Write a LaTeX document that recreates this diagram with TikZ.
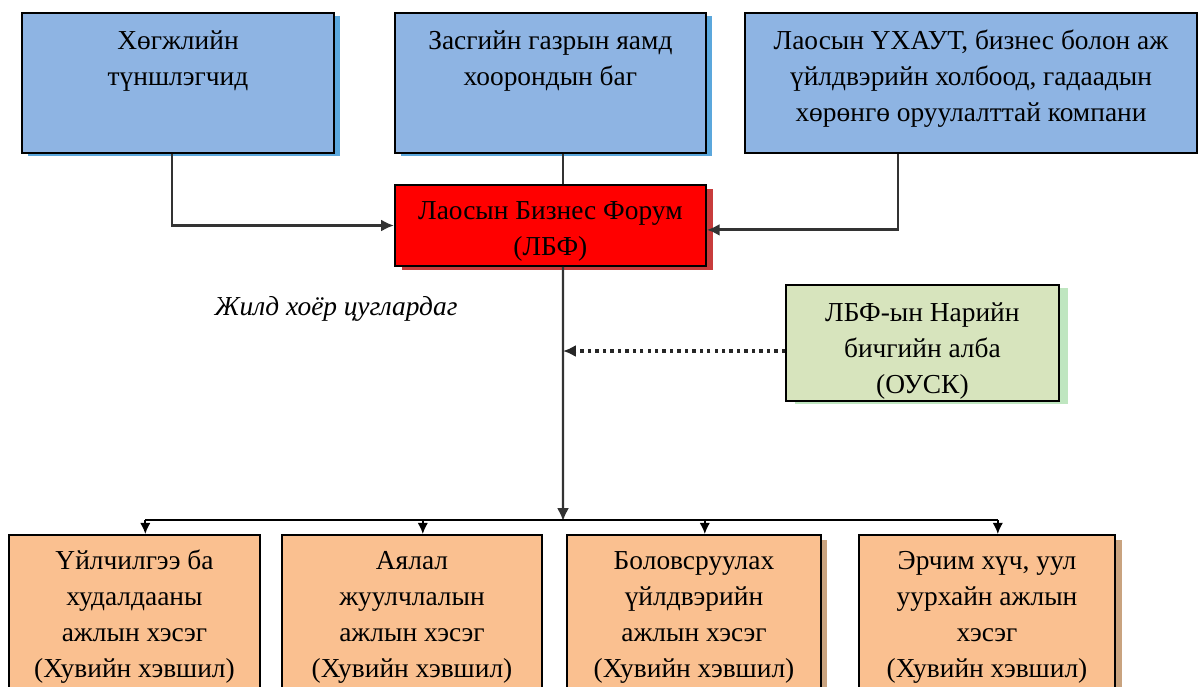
\documentclass[tikz,border=0pt]{standalone}
\usepackage{fontspec}
\setmainfont{Liberation Serif}
\usetikzlibrary{arrows.meta}
\usetikzlibrary{shadows}

\definecolor{unitblue}{HTML}{8EB4E3}
\definecolor{blueshade}{HTML}{5BA7DC}
\definecolor{forumred}{HTML}{FF0000}
\definecolor{redshade}{HTML}{C83C3C}
\definecolor{secrgreen}{HTML}{D7E4BD}
\definecolor{greenshade}{HTML}{BFE6C0}
\definecolor{grouporange}{HTML}{FAC090}
\definecolor{orangeshade}{HTML}{C9A37F}

% fixed size box, text hung from the top
\newcommand{\boxtext}[4]{\parbox[c][#1][t]{#2}{\centering\rule{0pt}{#3}#4}}

\begin{document}
\begin{tikzpicture}[
  unit/.style={draw=black, line width=1.3pt, inner sep=0pt, font=\fontsize{19.5}{25.6}\selectfont},
  link/.style={draw=black!80, line width=2.1pt, -{Latex[length=3.2mm,width=3mm]}},
  drop/.style={draw=black, line width=1.3pt, -{Latex[length=2.8mm,width=2.6mm]}}
]

\useasboundingbox (0,0) rectangle (29.975,-17.15);
\clip (0,0) rectangle (29.975,-17.15);

% top row
\node[unit, fill=unitblue, general shadow={fill=blueshade, shadow xshift=.14cm, shadow yshift=-.08cm}] (devp) at (4.45,-2.075)
  {\boxtext{3.5cm}{7.8cm}{.92cm}{Хөгжлийн\\түншлэгчид}};
\node[unit, fill=unitblue, general shadow={fill=blueshade, shadow xshift=.14cm, shadow yshift=-.08cm}] (gov) at (13.76,-2.075)
  {\boxtext{3.5cm}{7.775cm}{.92cm}{Засгийн газрын яамд\\хоорондын баг}};
\node[unit, fill=unitblue] (chamber) at (24.275,-2.075)
  {\boxtext{3.5cm}{11.3cm}{.92cm}{Лаосын ҮХАУТ, бизнес болон аж\\үйлдвэрийн холбоод, гадаадын\\хөрөнгө оруулалттай компани}};

% forum and secretariat
\node[unit, fill=forumred, general shadow={fill=redshade, shadow xshift=.18cm, shadow yshift=-.1cm}] (forum) at (13.76,-5.6375)
  {\boxtext{2.025cm}{7.775cm}{.87cm}{Лаосын Бизнес Форум\\(ЛБФ)}};
\node[font=\fontsize{19.5}{25.6}\selectfont\itshape] (yearly) at (8.4,-7.72) {Жилд хоёр цуглардаг};
\node[unit, fill=secrgreen, general shadow={fill=greenshade, shadow xshift=.22cm, shadow yshift=-.08cm}] (secr) at (23.06,-8.575)
  {\boxtext{2.9cm}{6.825cm}{.92cm}{ЛБФ-ын Нарийн\\бичгийн алба\\(ОУСК)}};

% working groups
\node[unit, fill=grouporange] (work1) at (3.3625,-15.475)
  {\boxtext{4.2cm}{6.275cm}{.87cm}{Үйлчилгээ ба\\худалдааны\\ажлын хэсэг\\(Хувийн хэвшил)}};
\node[unit, fill=grouporange] (work2) at (10.3,-15.475)
  {\boxtext{4.2cm}{6.5cm}{.87cm}{Аялал\\жуулчлалын\\ажлын хэсэг\\(Хувийн хэвшил)}};
\node[unit, fill=grouporange, general shadow={fill=orangeshade, shadow xshift=.14cm, shadow yshift=-.12cm}] (work3) at (17.35,-15.475)
  {\boxtext{4.2cm}{6.35cm}{.87cm}{Боловсруулах\\үйлдвэрийн\\ажлын хэсэг\\(Хувийн хэвшил)}};
\node[unit, fill=grouporange, general shadow={fill=orangeshade, shadow xshift=.18cm, shadow yshift=-.12cm}] (work4) at (24.675,-15.475)
  {\boxtext{4.2cm}{6.4cm}{.87cm}{Эрчим хүч, уул\\уурхайн ажлын\\хэсэг\\(Хувийн хэвшил)}};

\coordinate (split) at (14.075,-13.025);

% connectors
\draw[link] ([xshift=-.15cm]devp.south) |- (forum.west);
\draw[link] ([xshift=-1.825cm]chamber.south) |- ([yshift=-.11cm]forum.east);
\draw[draw=black!80, line width=1.7pt] ([xshift=.315cm]gov.south) -- ([xshift=.315cm]forum.north);
\draw[link, line width=1.7pt] ([xshift=.315cm]forum.south) -- (split);
\draw[draw=black!85, line width=2.4pt, dash pattern=on 2.4pt off 2.9pt, -{Latex[length=3.2mm,width=3mm]}]
  ([yshift=-.2cm]secr.west) -- ([yshift=-.2cm]secr.west -| split);
\draw[draw=black, line width=1.3pt] ([xshift=.27cm]work1.north) ++(0,.35) -- ++(21.31,0);
\foreach \w in {work1,work2,work3,work4} {
  \draw[drop] ([xshift=.27cm]\w.north) +(0,.35) -- ([xshift=.27cm]\w.north);
};

\end{tikzpicture}
\end{document}
